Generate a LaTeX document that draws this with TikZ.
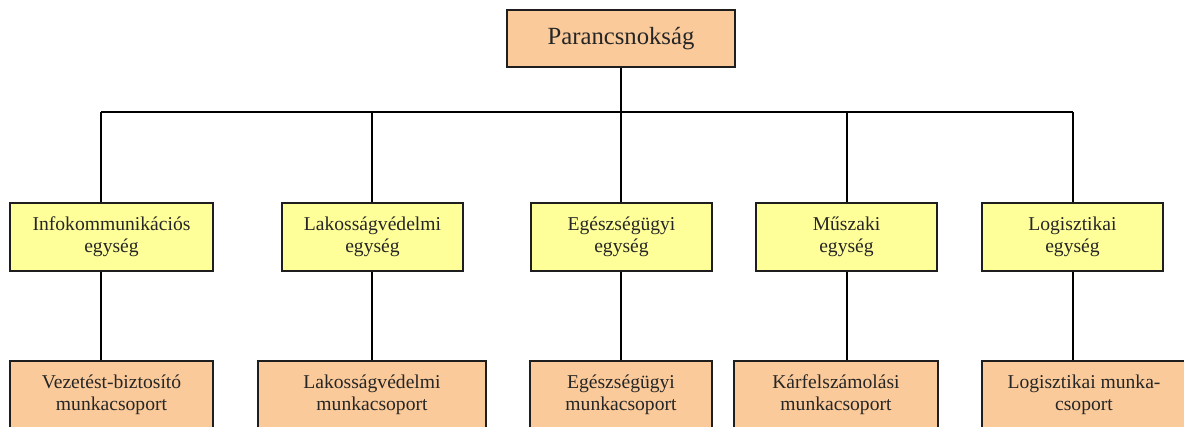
\documentclass[tikz,border=0pt]{standalone}
\usepackage{fontspec}
\setmainfont{Liberation Serif}
\definecolor{boxorange}{RGB}{250,202,154}
\definecolor{boxyellow}{RGB}{255,255,153}
\definecolor{edge}{RGB}{30,30,30}
\tikzset{
  unitbox/.style={draw=edge, line width=1.6pt, inner sep=0pt, align=center,
    minimum height=68pt, font=\fontsize{19.6pt}{22pt}\selectfont, text=black!85},
  yelbox/.style={unitbox, fill=boxyellow},
  orbox/.style={unitbox, fill=boxorange},
  conn/.style={draw=black, line width=1.5pt}
}
\begin{document}
\begin{tikzpicture}[x=1pt,y=-1pt]
\useasboundingbox (0,0) rectangle (1184,426);
\clip (0,0) rectangle (1184,426);
\fill[white] (0,0) rectangle (1184,426);
% top
\node[unitbox, fill=boxorange, minimum width=228pt, minimum height=57pt,
  font=\fontsize{24.7pt}{28pt}\selectfont] (top) at (621,38.5) {Parancsnokság};
% middle level
\node[yelbox, minimum width=203pt] (m1) at (111.5,237) {Infokommunikációs\\egység};
\node[yelbox, minimum width=181pt] (m2) at (372.5,237) {Lakosságvédelmi\\egység};
\node[yelbox, minimum width=181pt] (m3) at (621.5,237) {Egészségügyi\\egység};
\node[yelbox, minimum width=181pt] (m4) at (846.5,237) {Műszaki\\egység};
\node[yelbox, minimum width=181pt] (m5) at (1072.5,237) {Logisztikai\\egység};
% bottom level
\node[orbox, minimum width=203pt] (b1) at (111.5,395) {Vezetést-biztosító\\munkacsoport};
\node[orbox, minimum width=228pt] (b2) at (372,395) {Lakosságvédelmi\\munkacsoport};
\node[orbox, minimum width=182pt] (b3) at (621,395) {Egészségügyi\\munkacsoport};
\node[orbox, minimum width=204pt] (b4) at (836,395) {Kárfelszámolási\\munkacsoport};
\node[orbox, minimum width=204pt] (b5) at (1084,395) {Logisztikai munka-\\csoport};
% junctions on the bus
\coordinate (j0) at (621,112);
\coordinate (j1) at (101,112);
\coordinate (j2) at (372,112);
\coordinate (j3) at (621,112);
\coordinate (j4) at (847,112);
\coordinate (j5) at (1073,112);
\begin{scope}[conn]
\draw (top.south) -- (j0);
\draw (j1) -- (j5);
\draw (j1) -- (j1 |- m1.north);
\draw (j2) -- (j2 |- m2.north);
\draw (j3) -- (j3 |- m3.north);
\draw (j4) -- (j4 |- m4.north);
\draw (j5) -- (j5 |- m5.north);
\draw (m1.south -| j1) -- (b1.north -| j1);
\draw (m2.south -| j2) -- (b2.north -| j2);
\draw (m3.south -| j3) -- (b3.north -| j3);
\draw (m4.south -| j4) -- (b4.north -| j4);
\draw (m5.south -| j5) -- (b5.north -| j5);
\end{scope}
\end{tikzpicture}
\end{document}
